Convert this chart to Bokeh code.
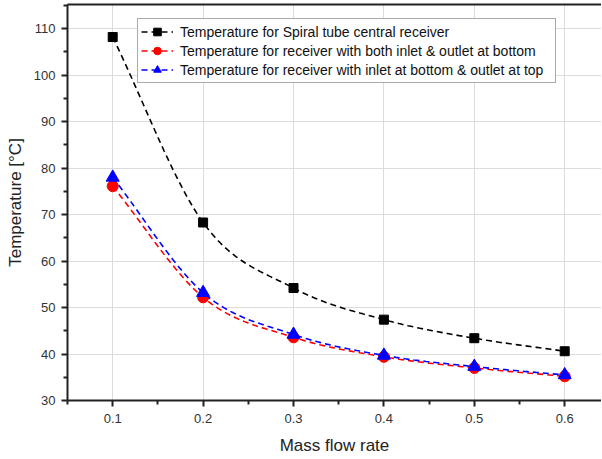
import numpy as np
from bokeh.plotting import figure
from bokeh.models import (Range1d, LinearAxis, Legend, LegendItem, FixedTicker,
                          ColumnDataSource)
from bokeh.embed import file_html
from bokeh.resources import INLINE

# ---- data ----
mass_flow = [0.1, 0.2, 0.3, 0.4, 0.5, 0.6]
temp_spiral = [108.2, 68.3, 54.2, 47.4, 43.4, 40.6]
temp_both_bottom = [76.1, 52.2, 43.6, 39.4, 37.0, 35.2]
temp_bottom_top = [78.0, 53.2, 44.2, 39.7, 37.3, 35.5]

labels = ["Temperature for Spiral tube central receiver",
          "Temperature for receiver with both inlet & outlet at bottom",
          "Temperature for receiver with inlet at bottom & outlet at top"]
colors = ["black", "red", "blue"]
markers = ["square", "circle", "triangle"]
x_ticks = [0.1, 0.2, 0.3, 0.4, 0.5, 0.6]
y_ticks = [30, 40, 50, 60, 70, 80, 90, 100, 110]

FONT = "Liberation Sans"


def catmull_rom(xs, ys, n=30):
    """Smooth connecting curve through the data points (rendering only)."""
    xs = np.asarray(xs, float)
    ys = np.asarray(ys, float)
    px = np.concatenate([[2 * xs[0] - xs[1]], xs, [2 * xs[-1] - xs[-2]]])
    py = np.concatenate([[2 * ys[0] - ys[1]], ys, [2 * ys[-1] - ys[-2]]])
    ox, oy = [], []
    for i in range(1, len(px) - 2):
        t = np.linspace(0, 1, n, endpoint=(i == len(px) - 3))
        for arr, out in ((px, ox), (py, oy)):
            p0, p1, p2, p3 = arr[i - 1], arr[i], arr[i + 1], arr[i + 2]
            out.extend(0.5 * ((2 * p1) + (-p0 + p2) * t +
                              (2 * p0 - 5 * p1 + 4 * p2 - p3) * t ** 2 +
                              (-p0 + 3 * p1 - 3 * p2 + p3) * t ** 3))
    return ox, oy


p = figure(width=601, height=458, output_backend="svg", toolbar_location=None,
           x_range=Range1d(0.05, 0.05 + 534 / 904), y_range=Range1d(30, 115.2),
           min_border_left=67, min_border_right=0, min_border_top=4,
           min_border_bottom=58)
p.outline_line_color = None
p.background_fill_color = "white"
p.border_fill_color = "white"

# grid
for g in (p.xgrid, p.ygrid):
    g.grid_line_color = "#dcdcdc"
    g.grid_line_width = 1
p.xgrid.ticker = FixedTicker(ticks=x_ticks)
p.ygrid.ticker = FixedTicker(ticks=y_ticks)

# axes
p.xaxis.ticker = FixedTicker(ticks=x_ticks,
                             minor_ticks=[0.05, 0.15, 0.25, 0.35, 0.45, 0.55, 0.65])
p.yaxis.ticker = FixedTicker(ticks=y_ticks,
                             minor_ticks=[35, 45, 55, 65, 75, 85, 95, 105, 115])
for ax in (p.xaxis[0], p.yaxis[0]):
    ax.axis_line_color = "#222222"
    ax.axis_line_width = 2
    ax.major_tick_line_color = "#222222"
    ax.minor_tick_line_color = "#222222"
    ax.major_tick_line_width = 2
    ax.minor_tick_line_width = 2
    ax.major_tick_out = 6
    ax.major_tick_in = 0
    ax.minor_tick_out = 4
    ax.minor_tick_in = 0
    ax.major_label_text_font = FONT
    ax.major_label_text_font_size = "13px"
    ax.major_label_text_color = "#333333"
    ax.axis_label_text_font = FONT
    ax.axis_label_text_font_size = "17px"
    ax.axis_label_text_font_style = "normal"
    ax.axis_label_text_color = "#222222"
p.xaxis.axis_label = "Mass flow rate"
p.yaxis.axis_label = "Temperature [\u00b0C]"
p.xaxis.major_label_standoff = 7
p.xaxis.axis_label_standoff = 10
p.yaxis.major_label_standoff = 6
p.yaxis.axis_label_standoff = 6

top_axis = LinearAxis(axis_line_color="#222222", axis_line_width=2,
                      major_tick_out=0, major_tick_in=0, minor_tick_out=0,
                      minor_tick_in=0, major_label_text_font_size="0px",
                      major_label_standoff=0, ticker=FixedTicker(ticks=[]))
p.add_layout(top_axis, "above")

items = []
for ys, c, m, lab in zip([temp_spiral, temp_both_bottom, temp_bottom_top],
                         colors, markers, labels):
    sx, sy = catmull_rom(mass_flow, ys)
    ln = p.line(sx, sy, line_color=c, line_width=1.6, line_dash="6 4")
    src = ColumnDataSource(dict(x=mass_flow, y=ys))
    size = {"square": 9, "circle": 11, "triangle": 13}[m]
    sc = p.scatter("x", "y", source=src, marker=m, size=size,
                   fill_color=c, line_color=c)
    items.append(LegendItem(label=lab, renderers=[ln, sc]))

legend = Legend(items=items, location=(70, 317))
legend.label_text_font = FONT
legend.label_text_font_size = "14px"
legend.label_text_color = "#111111"
legend.glyph_width = 32
legend.glyph_height = 19
legend.label_standoff = 7
legend.label_height = 19
legend.label_width = 372
legend.spacing = 0
legend.padding = 3
legend.margin = 0
legend.border_line_color = "#555555"
legend.border_line_width = 1
legend.background_fill_alpha = 1
p.add_layout(legend, "center")

open("out.html", "w").write(file_html(p, INLINE))
